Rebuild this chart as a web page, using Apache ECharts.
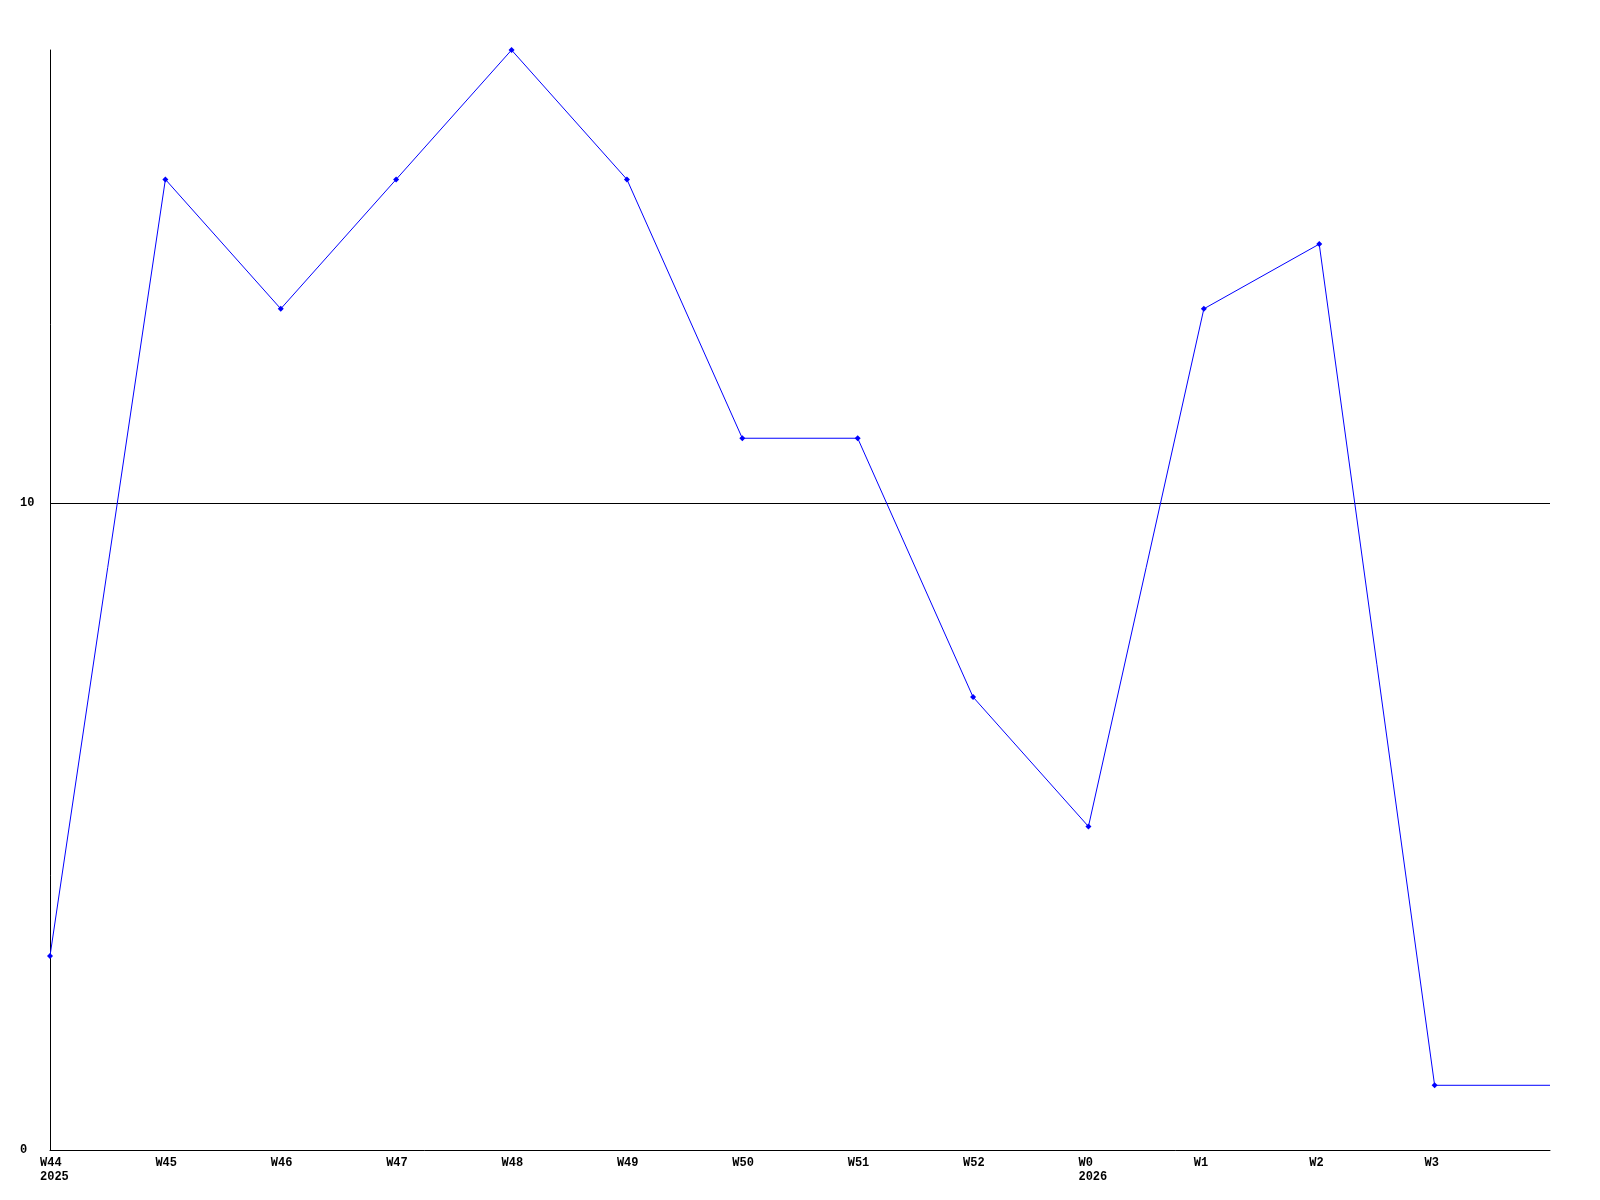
<!DOCTYPE html>
<html>
<head>
<meta charset="utf-8">
<script src="https://cdn.jsdelivr.net/npm/echarts@6/dist/echarts.min.js"></script>
<style>html,body{margin:0;padding:0;background:#fff;}#c{width:1600px;height:1200px;}</style>
</head>
<body>
<div id="c"></div>
<script>
const categories = ['W44', 'W45', 'W46', 'W47', 'W48', 'W49', 'W50', 'W51', 'W52', 'W0', 'W1', 'W2', 'W3', 'W4'];
const yearLabels = { 'W44': '2025', 'W0': '2026' };
const values = [3, 15, 13, 15, 17, 15, 11, 11, 7, 5, 13, 14, 1, 1];
const yTicks = [0, 10];

const FONT = 'Liberation Mono';
const chart = echarts.init(document.getElementById('c'), null, { renderer: 'canvas' });
const seriesData = values.map((v, i) => i === values.length - 1 ? { value: v, symbol: 'none' } : v);
chart.setOption({
  animation: false,
  backgroundColor: '#ffffff',
  grid: { left: 50, right: 50, top: 50, bottom: 50, containLabel: false },
  xAxis: {
    type: 'category',
    data: categories,
    boundaryGap: false,
    axisLine: { lineStyle: { color: '#000', width: 1 } },
    axisTick: { show: false },
    splitLine: { show: false },
    axisLabel: {
      interval: 0,
      margin: 6,
      color: '#000',
      fontFamily: FONT,
      fontWeight: 'bold',
      fontSize: 12,
      lineHeight: 14,
      align: 'center',
      formatter: function (v, idx) {
        if (idx === categories.length - 1) return '';
        let s = '{a|' + v + '}';
        if (yearLabels[v]) s += '\n{a|' + yearLabels[v] + '}';
        return s;
      },
      rich: {
        a: { width: 20, align: 'left', color: '#000', fontFamily: FONT, fontWeight: 'bold', fontSize: 12, lineHeight: 14 }
      }
    }
  },
  yAxis: {
    type: 'value',
    min: 0,
    max: 17,
    interval: 10,
    axisLine: { show: true, lineStyle: { color: '#000', width: 1 } },
    axisTick: { show: false },
    splitLine: { show: true, showMinLine: false, showMaxLine: false, lineStyle: { color: '#000', width: 1 } },
    axisLabel: {
      margin: 30,
      align: 'left',
      color: '#000',
      fontFamily: FONT,
      fontWeight: 'bold',
      fontSize: 12,
      showMaxLabel: false,
      formatter: function (v) { return yTicks.indexOf(v) >= 0 ? String(v) : ''; }
    }
  },
  series: [{
    type: 'line',
    data: seriesData,
    symbol: 'diamond',
    symbolSize: 6,
    showAllSymbol: true,
    lineStyle: { color: '#0000ff', width: 1 },
    itemStyle: { color: '#0000ff' },
    emphasis: { disabled: true }
  }]
});
</script>
</body>
</html>
